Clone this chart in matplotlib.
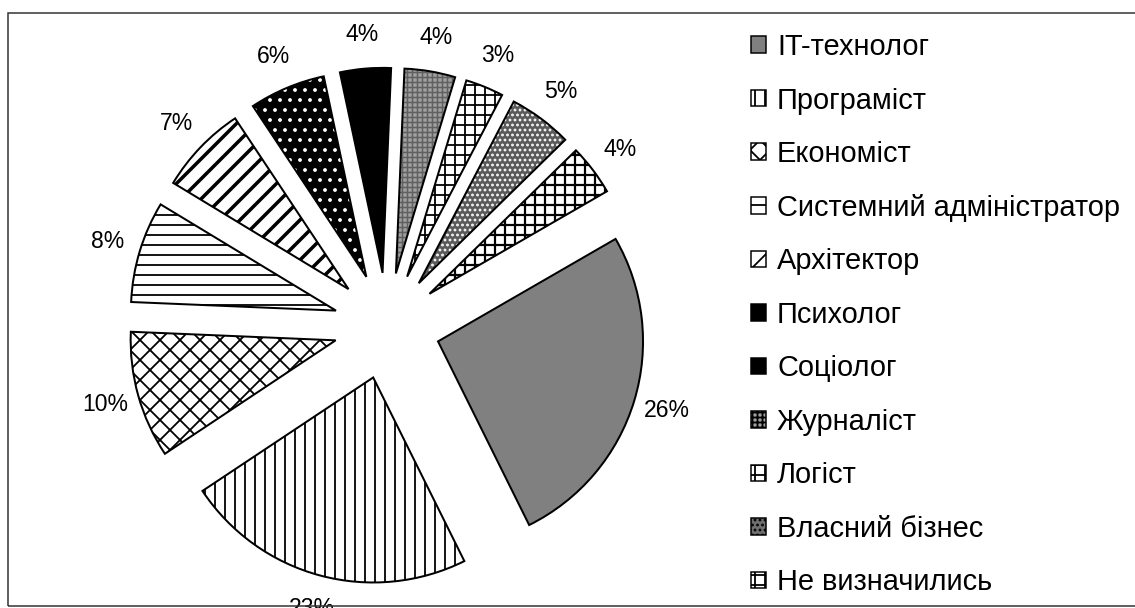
# Кругова діаграма: вибір професії (відсотки)

import matplotlib.pyplot as plt
from matplotlib.patches import Patch, Rectangle

DPI = 60
W, H = 1135, 608


def pt(px):
    """Пікселі -> пункти при DPI=60."""
    return px * 72 / DPI


plt.rcParams['font.family'] = ['Liberation Sans', 'DejaVu Sans']
plt.rcParams['hatch.linewidth'] = pt(1.8)

професії = ["IT-технолог", "Програміст", "Економіст", "Системний адміністратор",
            "Архітектор", "Психолог", "Соціолог", "Журналіст", "Логіст",
            "Власний бізнес", "Не визначились"]
частки = [26, 23, 10, 8, 7, 6, 4, 4, 3, 5, 4]

# стиль секторів
фон = ["#808080", "white", "white", "white", "white", "black",
       "black", "#a0a0a0", "white", "#5a5a5a", "white"]
штрих = [None, "|", "x", "-", "/", ".", None, "++", "+", "..", "+"]
колір_штриха = ["black", "black", "black", "black", "black", "white",
                "black", "#606060", "black", "white", "black"]
товщина_штриха = [1.8, 1.8, 1.8, 1.8, 3.5, 1.8, 1.8, 1.5, 1.8, 1.8, 2.2]

fig = plt.figure(figsize=(W / DPI, H / DPI), dpi=DPI)

# рамка області діаграми
fig.patches.append(Rectangle((8 / W, 2 / H), 1.2, (H - 15) / H,
                             transform=fig.transFigure, fill=False,
                             edgecolor="#303030", linewidth=pt(1.5)))

R = 205        # радіус у пікселях
cx, cy = 387, H - 326
L = 2.0
ax = fig.add_axes([(cx - L * R) / W, (cy - L * R) / H, 2 * L * R / W, 2 * L * R / H])
ax.patch.set_visible(False)

розсув = [0.26] * len(частки)

сектори, _, відсотки = ax.pie(
    частки, explode=розсув, startangle=30, counterclock=False,
    autopct=lambda p: f"{p:.0f}%", pctdistance=1.165,
    wedgeprops=dict(linewidth=0),
    textprops=dict(fontsize=pt(23), color="black"))

for w, f, h, hc, lw in zip(сектори, фон, штрих, колір_штриха, товщина_штриха):
    w.set_facecolor(f)
    w.set_edgecolor(hc)
    w.set_hatch(h)
    w.set_linewidth(0)
    if hasattr(w, "set_hatch_linewidth"):
        w.set_hatch_linewidth(pt(lw))

# контури секторів
ax.pie(частки, explode=розсув, startangle=30, counterclock=False,
       wedgeprops=dict(fill=False, edgecolor="black", linewidth=pt(2)))

ax.set_xlim(-L, L)
ax.set_ylim(-L, L)
ax.set_aspect("equal")
ax.axis("off")

# легенда
ручки = [Patch(facecolor=f if f != "#5a5a5a" else "#707070", edgecolor="black",
               hatch=h, linewidth=pt(1.5)) for f, h in zip(фон, штрих)]
fig.legend(ручки, професії, loc="upper left",
           bbox_to_anchor=(751 / W, (H - 33) / H),
           frameon=False, fontsize=pt(29), borderpad=0, borderaxespad=0,
           handlelength=0.5, handleheight=0.5, handletextpad=0.4,
           labelspacing=0.88)

fig.savefig("out.png", dpi=DPI)
